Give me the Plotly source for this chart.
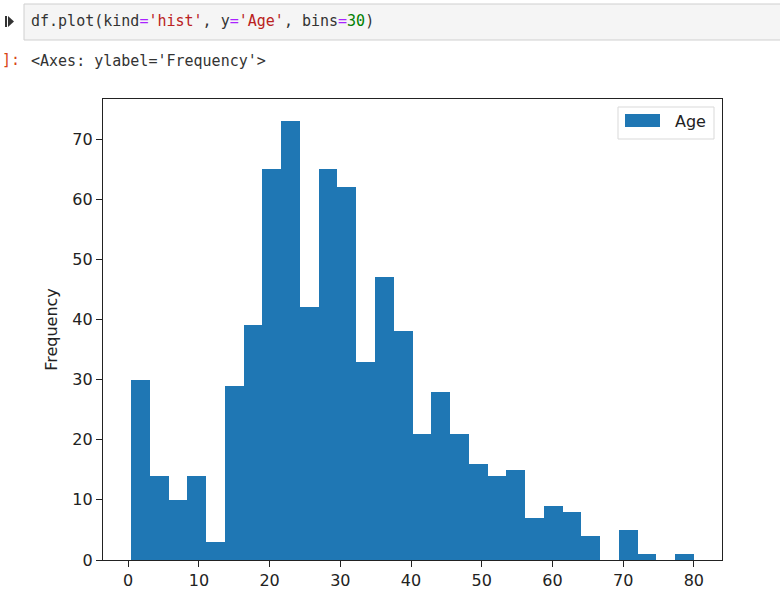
import numpy as np
import plotly.graph_objects as go

# ---- data ----
age_min = 0.42
age_max = 80.0
n_bins = 30
counts = [30, 14, 10, 14, 3, 29, 39, 65, 73, 42, 65, 62, 33, 47, 38,
          21, 28, 21, 16, 14, 15, 7, 9, 8, 4, 0, 5, 1, 0, 1]
x_ticks = [0, 10, 20, 30, 40, 50, 60, 70, 80]
y_ticks = [0, 10, 20, 30, 40, 50, 60, 70]
series_name = "Age"

edges = np.linspace(age_min, age_max, n_bins + 1)
centers = (edges[:-1] + edges[1:]) / 2
width = edges[1] - edges[0]

W, H = 780, 597
def px(x):
    return x / W
def py(y):
    return 1 - y / H

span = age_max - age_min
xr = [age_min - 0.05 * span, age_max + 0.05 * span]
yr = [0, max(counts) * 1.05]

fig = go.Figure()
fig.add_trace(go.Bar(x=centers, y=counts, width=width, name=series_name,
                     marker=dict(color="#1f77b4", line=dict(width=0)),
                     showlegend=False, hoverinfo="skip"))

font_main = "DejaVu Sans"
fig.update_layout(
    width=W, height=H,
    margin=dict(l=0, r=0, t=0, b=0, autoexpand=False),
    paper_bgcolor="white", plot_bgcolor="white",
    bargap=0,
    font=dict(family=font_main, size=16, color="#000"),
    xaxis=dict(domain=[px(103), px(722)], range=xr, tickvals=x_ticks,
               automargin=False,
               showgrid=False, zeroline=False, showline=True, mirror=True,
               linecolor="#222", linewidth=1.2, ticks="outside", ticklen=6,
               tickwidth=1.2, tickcolor="#222",
               tickfont=dict(family=font_main, size=16, color="#222")),
    yaxis=dict(domain=[py(560), py(99)], range=yr, tickvals=y_ticks,
               automargin=False,
               showgrid=False, zeroline=False, showline=True, mirror=True,
               linecolor="#222", linewidth=1.2, ticks="outside", ticklen=6,
               tickwidth=1.2, tickcolor="#222",
               tickfont=dict(family=font_main, size=16, color="#222"),
               title=dict(text="Frequency", standoff=10,
                          font=dict(family=font_main, size=16, color="#222"))),
)

# Notebook code cell box
fig.add_shape(type="rect", xref="paper", yref="paper",
              x0=px(24), x1=px(790), y0=py(40), y1=py(4),
              fillcolor="#f5f5f5", line=dict(color="#cfcfcf", width=1), layer="below")
# run icon
fig.add_shape(type="rect", xref="paper", yref="paper",
              x0=px(5), x1=px(7), y0=py(27), y1=py(16),
              fillcolor="#333", line=dict(width=0))
fig.add_shape(type="path", xref="paper", yref="paper",
              path=f"M {px(8)} {py(16)} L {px(14)} {py(21.5)} L {px(8)} {py(27)} Z",
              fillcolor="#333", line=dict(width=0))

eq = "<span style='color:#aa22ff'>=</span>"
code = ("df.plot(kind" + eq + "<span style='color:#ba2121'>'hist'</span>, y" + eq +
        "<span style='color:#ba2121'>'Age'</span>, bins" + eq +
        "<span style='color:#008000'>30</span>)")
fig.add_annotation(xref="paper", yref="paper", x=px(29), y=py(21.5),
                   xanchor="left", yanchor="middle", showarrow=False,
                   text=code, font=dict(family="DejaVu Sans Mono", size=15, color="#333"))
fig.add_annotation(xref="paper", yref="paper", x=px(0), y=py(60),
                   xanchor="left", yanchor="middle", showarrow=False,
                   text="]:", font=dict(family="DejaVu Sans Mono", size=15, color="#d84315"))
fig.add_annotation(xref="paper", yref="paper", x=px(29), y=py(61),
                   xanchor="left", yanchor="middle", showarrow=False,
                   text="&lt;Axes: ylabel='Frequency'&gt;",
                   font=dict(family="DejaVu Sans Mono", size=15, color="#333"))

# legend (matplotlib style)
fig.add_shape(type="rect", xref="paper", yref="paper",
              x0=px(618), x1=px(714), y0=py(139), y1=py(107),
              fillcolor="rgba(255,255,255,0.8)", line=dict(color="#d9d9d9", width=1))
fig.add_shape(type="rect", xref="paper", yref="paper",
              x0=px(625), x1=px(660), y0=py(127), y1=py(114),
              fillcolor="#1f77b4", line=dict(width=0))
fig.add_annotation(xref="paper", yref="paper", x=px(673), y=py(121),
                   xanchor="left", yanchor="middle", showarrow=False,
                   text=series_name, font=dict(family=font_main, size=16, color="#222"))

post = (
    "var h=document.documentElement,b=document.body;"
    "[h,b].forEach(function(e){e.style.margin='0';e.style.padding='0';"
    "e.style.overflow='hidden';});"
)
fig.write_html("out.html", config={"displayModeBar": False}, post_script=post)
